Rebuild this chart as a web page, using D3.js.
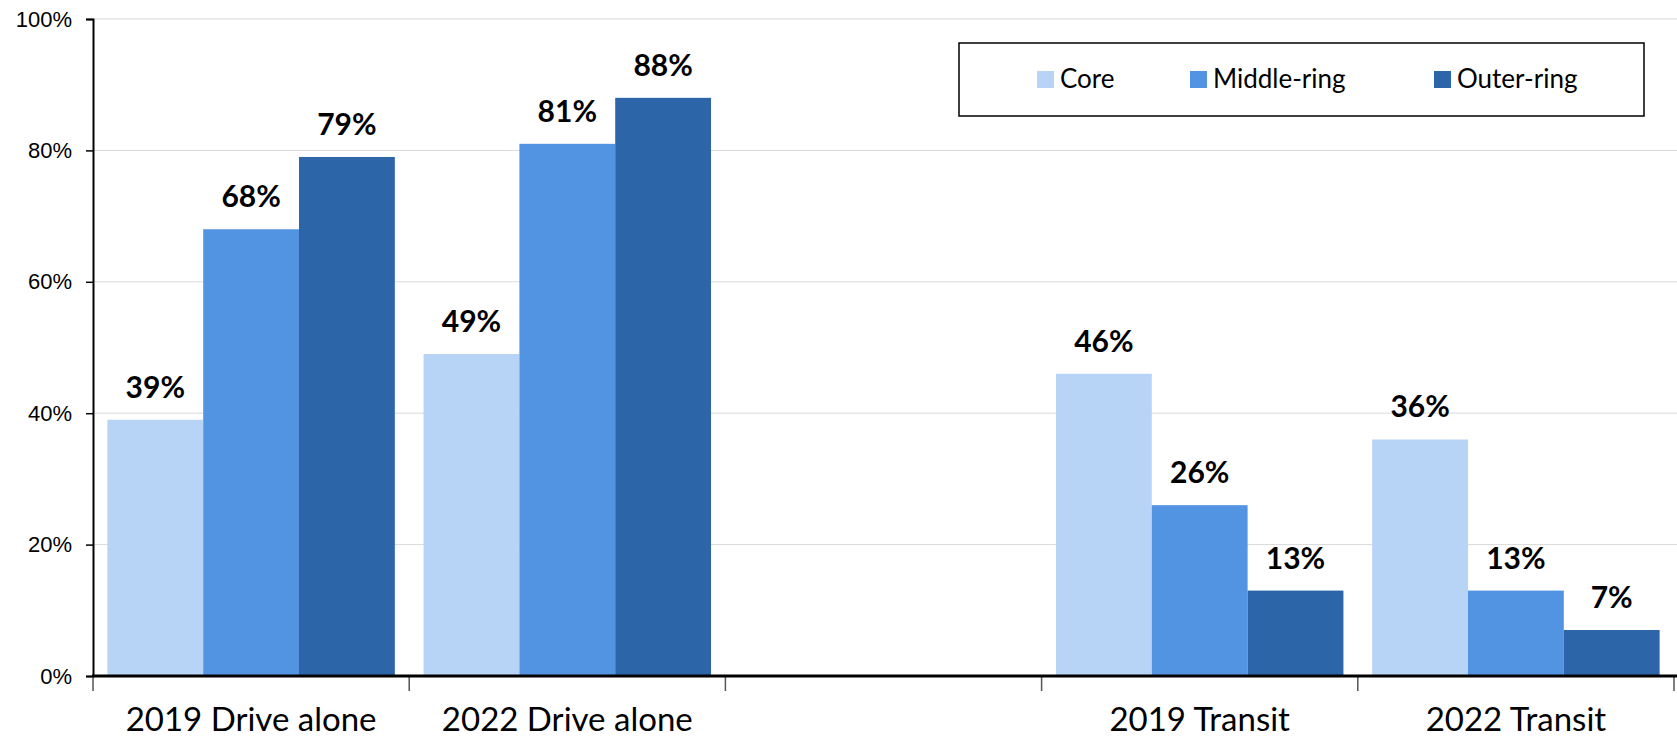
<!DOCTYPE html>
<meta charset="utf-8">
<style>
body {
  margin: 0;
  background: #fff;
}
svg text {
  fill: #000;
}
.grid line {
  stroke: #d9d9d9;
  stroke-width: 1;
}
</style>
<body>
<script src="https://d3js.org/d3.v7.min.js"></script>
<script>

var width = 1677,
    height = 739;

var margin = {top: 19, right: 0, bottom: 63, left: 93};

// categories along the x axis (the third one is an empty slot)
var categories = ["2019 Drive alone", "2022 Drive alone", "", "2019 Transit", "2022 Transit"];
var series = ["Core", "Middle-ring", "Outer-ring"];
var colors = ["#b7d4f7", "#5294e2", "#2c66a9"];

// values in percent, one array per series
var core = [39, 49, null, 46, 36];
var middle = [68, 81, null, 26, 13];
var outer = [79, 88, null, 13, 7];

var yTicks = [0, 20, 40, 60, 80, 100];

var values = [core, middle, outer];

var svg = d3.select("body").append("svg")
    .attr("width", width)
    .attr("height", height);

var x0 = d3.scaleBand()
    .domain(categories)
    .range([margin.left, width - 3])
    .padding(0);

var x1 = d3.scaleBand()
    .domain(series)
    .range([0, x0.bandwidth()])
    .paddingInner(0)
    .paddingOuter(0.15);

var y = d3.scaleLinear()
    .domain([0, 100])
    .range([height - margin.bottom, margin.top]);

// gridlines
svg.append("g")
    .attr("class", "grid")
  .selectAll("line")
    .data(yTicks.slice(1))
  .enter().append("line")
    .attr("x1", margin.left)
    .attr("x2", width)
    .attr("y1", function(d) { return y(d); })
    .attr("y2", function(d) { return y(d); });

// bars
var rows = [];
categories.forEach(function(c, i) {
  series.forEach(function(s, j) {
    if (values[j][i] !== null) rows.push({cat: c, key: s, value: values[j][i], color: colors[j]});
  });
});

svg.append("g").selectAll("rect")
    .data(rows)
  .enter().append("rect")
    .attr("x", function(d) { return x0(d.cat) + x1(d.key); })
    .attr("y", function(d) { return y(d.value); })
    .attr("width", x1.bandwidth())
    .attr("height", function(d) { return y(0) - y(d.value); })
    .attr("fill", function(d) { return d.color; });

// value labels
svg.append("g").selectAll("text")
    .data(rows)
  .enter().append("text")
    .attr("x", function(d) { return x0(d.cat) + x1(d.key) + x1.bandwidth() / 2; })
    .attr("y", function(d) { return y(d.value) - 22; })
    .attr("text-anchor", "middle")
    .style("font-family", "Lato")
    .style("font-weight", "bold")
    .style("font-size", "30px")
    .text(function(d) { return d.value + "%"; });

// y axis
var yAxis = svg.append("g")
    .attr("transform", "translate(" + margin.left + ",0)")
    .call(d3.axisLeft(y).tickValues(yTicks).tickFormat(function(d) { return d + "%"; }).tickSize(7).tickPadding(14));

yAxis.select(".domain").attr("stroke", "#000").attr("stroke-width", 2);
yAxis.selectAll(".tick line").attr("stroke", "#000").attr("stroke-width", 1.5);
yAxis.selectAll(".tick text")
    .style("font-family", "Liberation Sans, Arial")
    .style("font-size", "22px")
    .attr("fill", "#000");

// x axis
var xAxis = svg.append("g")
    .attr("transform", "translate(0," + y(0) + ")");

xAxis.selectAll(".xtick")
    .data(d3.range(categories.length + 1))
  .enter().append("line")
    .attr("x1", function(i) { return margin.left + i * x0.step(); })
    .attr("x2", function(i) { return margin.left + i * x0.step(); })
    .attr("y1", 0)
    .attr("y2", 15)
    .attr("stroke", "#555")
    .attr("stroke-width", 1.5);

xAxis.append("line")
    .attr("x1", margin.left - 1)
    .attr("x2", width)
    .attr("stroke", "#000")
    .attr("stroke-width", 3);

xAxis.selectAll(".xlabel")
    .data(categories)
  .enter().append("text")
    .attr("x", function(d) { return x0(d) + x0.bandwidth() / 2; })
    .attr("y", 55)
    .attr("text-anchor", "middle")
    .style("font-family", "Lato")
    .style("font-size", "33px")
    .text(function(d) { return d; });

// legend
var legend = svg.append("g")
    .attr("transform", "translate(959,43)");

legend.append("rect")
    .attr("width", 685)
    .attr("height", 73)
    .attr("fill", "#fff")
    .attr("stroke", "#000")
    .attr("stroke-width", 1.5);

var legendX = [78, 231, 475];

var item = legend.selectAll(".item")
    .data(series)
  .enter().append("g")
    .attr("transform", function(d, i) { return "translate(" + legendX[i] + ",28)"; });

item.append("rect")
    .attr("width", 17)
    .attr("height", 17)
    .attr("fill", function(d, i) { return colors[i]; });

item.append("text")
    .attr("x", 23)
    .attr("y", 17)
    .style("font-family", "Lato")
    .style("font-size", "26px")
    .text(function(d) { return d; });

</script>
